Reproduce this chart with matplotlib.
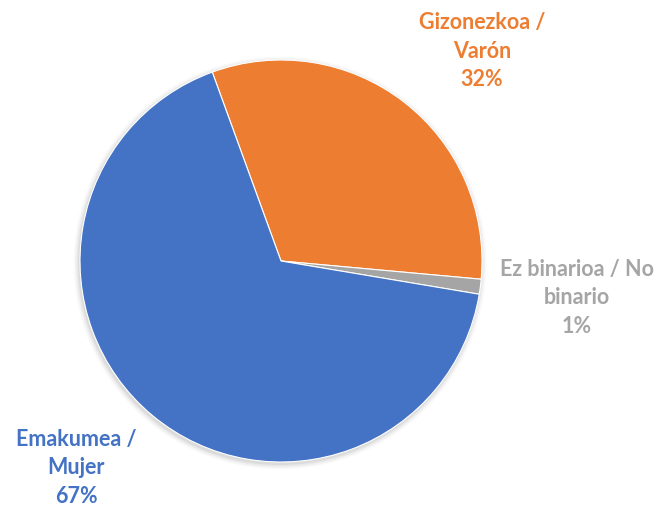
import matplotlib.pyplot as plt
from matplotlib.patches import Circle

labels = ["Gizonezkoa /\nVarón", "Ez binarioa / No\nbinario", "Emakumea /\nMujer"]
shares = [32.0, 1.2, 66.8]
colors = ["#ED7D31", "#A5A5A5", "#4472C4"]

plt.rcParams['font.family'] = ['Lato', 'DejaVu Sans']

fig = plt.figure(figsize=(6.6, 5.08), dpi=100)
ax = fig.add_axes([0, 0, 1, 1])

cx, cy, r = 281, 247, 201

# soft shadow under the pie
for i, a in enumerate([0.05, 0.04, 0.03, 0.02]):
    ax.add_patch(Circle((cx - 1, cy - 2), r + 1 + i * 1.5, color='black', alpha=a, lw=0, zorder=0))

wedges, _ = ax.pie(shares, colors=colors, startangle=110, counterclock=False,
                   center=(cx, cy), radius=r, frame=True,
                   wedgeprops=dict(edgecolor='white', linewidth=0.8))
ax.set_xlim(0, 660)
ax.set_ylim(0, 508)
ax.set_aspect('equal')
ax.axis('off')

total = sum(shares)
label_pos = [(482, 457), (577, 210), (76, 40)]
for lab, val, col, (x, y) in zip(labels, shares, colors, label_pos):
    txt = f"{lab}\n{round(val / total * 100):.0f}%"
    ax.text(x, y, txt, ha='center', va='center', color=col, fontsize=15.5,
            fontweight='bold', linespacing=1.45)

fig.savefig("out.png", dpi=100)
